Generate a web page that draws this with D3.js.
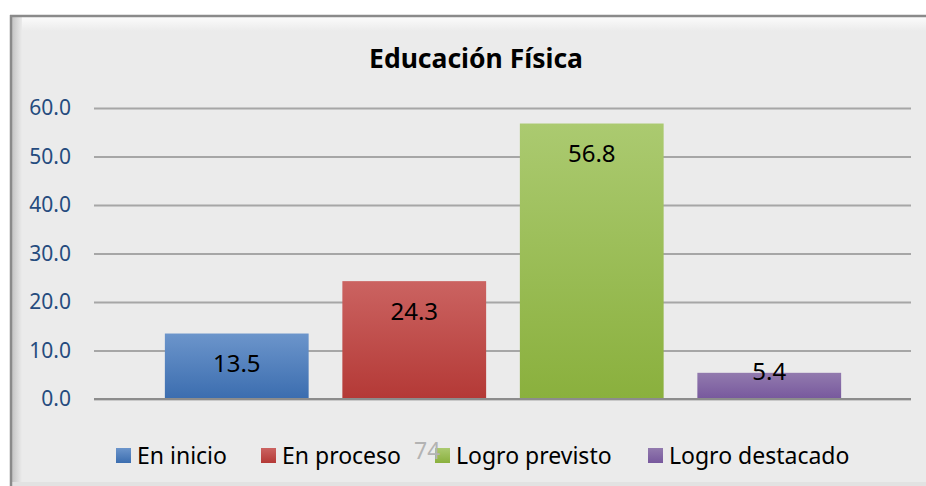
<!DOCTYPE html>
<html>
<head>
<meta charset="utf-8">
<script src="https://cdn.jsdelivr.net/npm/d3@7"></script>
<style>
	html, body { margin: 0; padding: 0; background: #fff; }
	svg { display: block; font-family: "Noto Sans", "Open Sans", sans-serif; }
</style>
</head>
<body>
<div id="chart"></div>
<script>
const categories = ['En inicio', 'En proceso', 'Logro previsto', 'Logro destacado'];
const values = [13.5, 24.3, 56.8, 5.4];
const yTicks = [0, 10, 20, 30, 40, 50, 60];
const colorsTop = ['#6c95cb', '#cb6361', '#abca70', '#927aae'];
const colorsBottom = ['#3b6daf', '#b43936', '#8ab03d', '#77589d'];

const W = 926, H = 486;
const svg = d3.select('#chart').append('svg')
	.attr('width', W)
	.attr('height', H);

const defs = svg.append('defs');
categories.forEach((c, i) => {
	const g = defs.append('linearGradient')
		.attr('id', 'grad' + i)
		.attr('x1', 0).attr('y1', 0).attr('x2', 0).attr('y2', 1);
	g.append('stop').attr('offset', '0%').attr('stop-color', colorsTop[i]);
	g.append('stop').attr('offset', '100%').attr('stop-color', colorsBottom[i]);
});
const topShade = defs.append('linearGradient').attr('id', 'topShade')
	.attr('x1', 0).attr('y1', 0).attr('x2', 0).attr('y2', 1);
topShade.append('stop').attr('offset', '0%').attr('stop-color', '#fbfbfb');
topShade.append('stop').attr('offset', '100%').attr('stop-color', '#ebebeb');
const leftShade = defs.append('linearGradient').attr('id', 'leftShade')
	.attr('x1', 0).attr('y1', 0).attr('x2', 1).attr('y2', 0);
leftShade.append('stop').attr('offset', '0%').attr('stop-color', '#c4c4c4');
leftShade.append('stop').attr('offset', '100%').attr('stop-color', '#ebebeb');

// frame
svg.append('rect')
	.attr('x', 10).attr('y', 15)
	.attr('width', W - 10).attr('height', H - 15)
	.attr('fill', '#ebebeb');
svg.append('rect')
	.attr('x', 12).attr('y', 17)
	.attr('width', W - 12).attr('height', 14)
	.attr('fill', 'url(#topShade)');
svg.append('rect')
	.attr('x', 12).attr('y', 17)
	.attr('width', 10).attr('height', H - 17)
	.attr('fill', 'url(#leftShade)');
svg.append('rect')
	.attr('x', 12).attr('y', H - 4)
	.attr('width', W - 12).attr('height', 4)
	.attr('fill', '#e2e2e2');
svg.append('line')
	.attr('x1', 10).attr('x2', W).attr('y1', 16).attr('y2', 16)
	.attr('stroke', '#8a8a8a').attr('stroke-width', 2.5);
svg.append('line')
	.attr('x1', 11).attr('x2', 11).attr('y1', 15).attr('y2', H)
	.attr('stroke', '#8a8a8a').attr('stroke-width', 2.5);

// title
svg.append('text')
	.attr('x', 476).attr('y', 68)
	.attr('text-anchor', 'middle')
	.attr('font-size', 26.5)
	.attr('font-weight', 'bold')
	.attr('fill', '#000')
	.text('Educación Física');

const gridX0 = 94, gridX1 = 911;
const y = d3.scaleLinear().domain([0, 60]).range([399, 108]);
const x = d3.scaleBand().domain(categories).range([148, 858]).paddingInner(0.19).paddingOuter(0.095);

const yAxis = svg.append('g')
	.attr('transform', `translate(${gridX0},0)`)
	.call(d3.axisLeft(y).tickValues(yTicks).tickSize(-(gridX1 - gridX0)).tickPadding(23).tickFormat(d3.format('.1f')));
yAxis.select('.domain').remove();
yAxis.selectAll('.tick line')
	.attr('stroke', '#a6a6a6')
	.attr('stroke-width', 2);
yAxis.selectAll('.tick text')
	.attr('fill', '#254b7e')
	.attr('font-size', 21)
	.attr('font-family', '"Noto Sans", sans-serif');

// bars
svg.append('g').selectAll('rect')
	.data(values)
	.join('rect')
	.attr('x', (d, i) => x(categories[i]))
	.attr('y', d => y(d))
	.attr('width', x.bandwidth())
	.attr('height', d => y(0) - y(d))
	.attr('fill', (d, i) => `url(#grad${i})`);

// baseline
svg.append('line')
	.attr('x1', gridX0).attr('x2', gridX1)
	.attr('y1', y(0)).attr('y2', y(0))
	.attr('stroke', '#8c8c8c').attr('stroke-width', 2);

// value labels
svg.append('g').selectAll('text')
	.data(values)
	.join('text')
	.attr('x', (d, i) => x(categories[i]) + x.bandwidth() / 2)
	.attr('y', d => Math.min(y(d) + 30, y(0) - 27))
	.attr('dy', '0.35em')
	.attr('text-anchor', 'middle')
	.attr('font-size', 24)
	.attr('fill', '#000')
	.text(d => d3.format('.1f')(d));

// legend
const legendX = [116, 261, 435, 648];
const legend = svg.append('g').selectAll('g')
	.data(categories)
	.join('g')
	.attr('transform', (d, i) => `translate(${legendX[i]},448)`);
legend.append('rect')
	.attr('width', 15).attr('height', 15)
	.attr('fill', (d, i) => `url(#grad${i})`);
legend.append('text')
	.attr('x', 21).attr('y', 8)
	.attr('dy', '0.35em')
	.attr('font-size', 23)
	.attr('fill', '#000')
	.text(d => d);

// page number bleeding through
svg.append('text')
	.attr('x', 414).attr('y', 459)
	.attr('font-size', 23)
	.attr('fill', '#b3b3b3')
	.text('74');
</script>
</body>
</html>
